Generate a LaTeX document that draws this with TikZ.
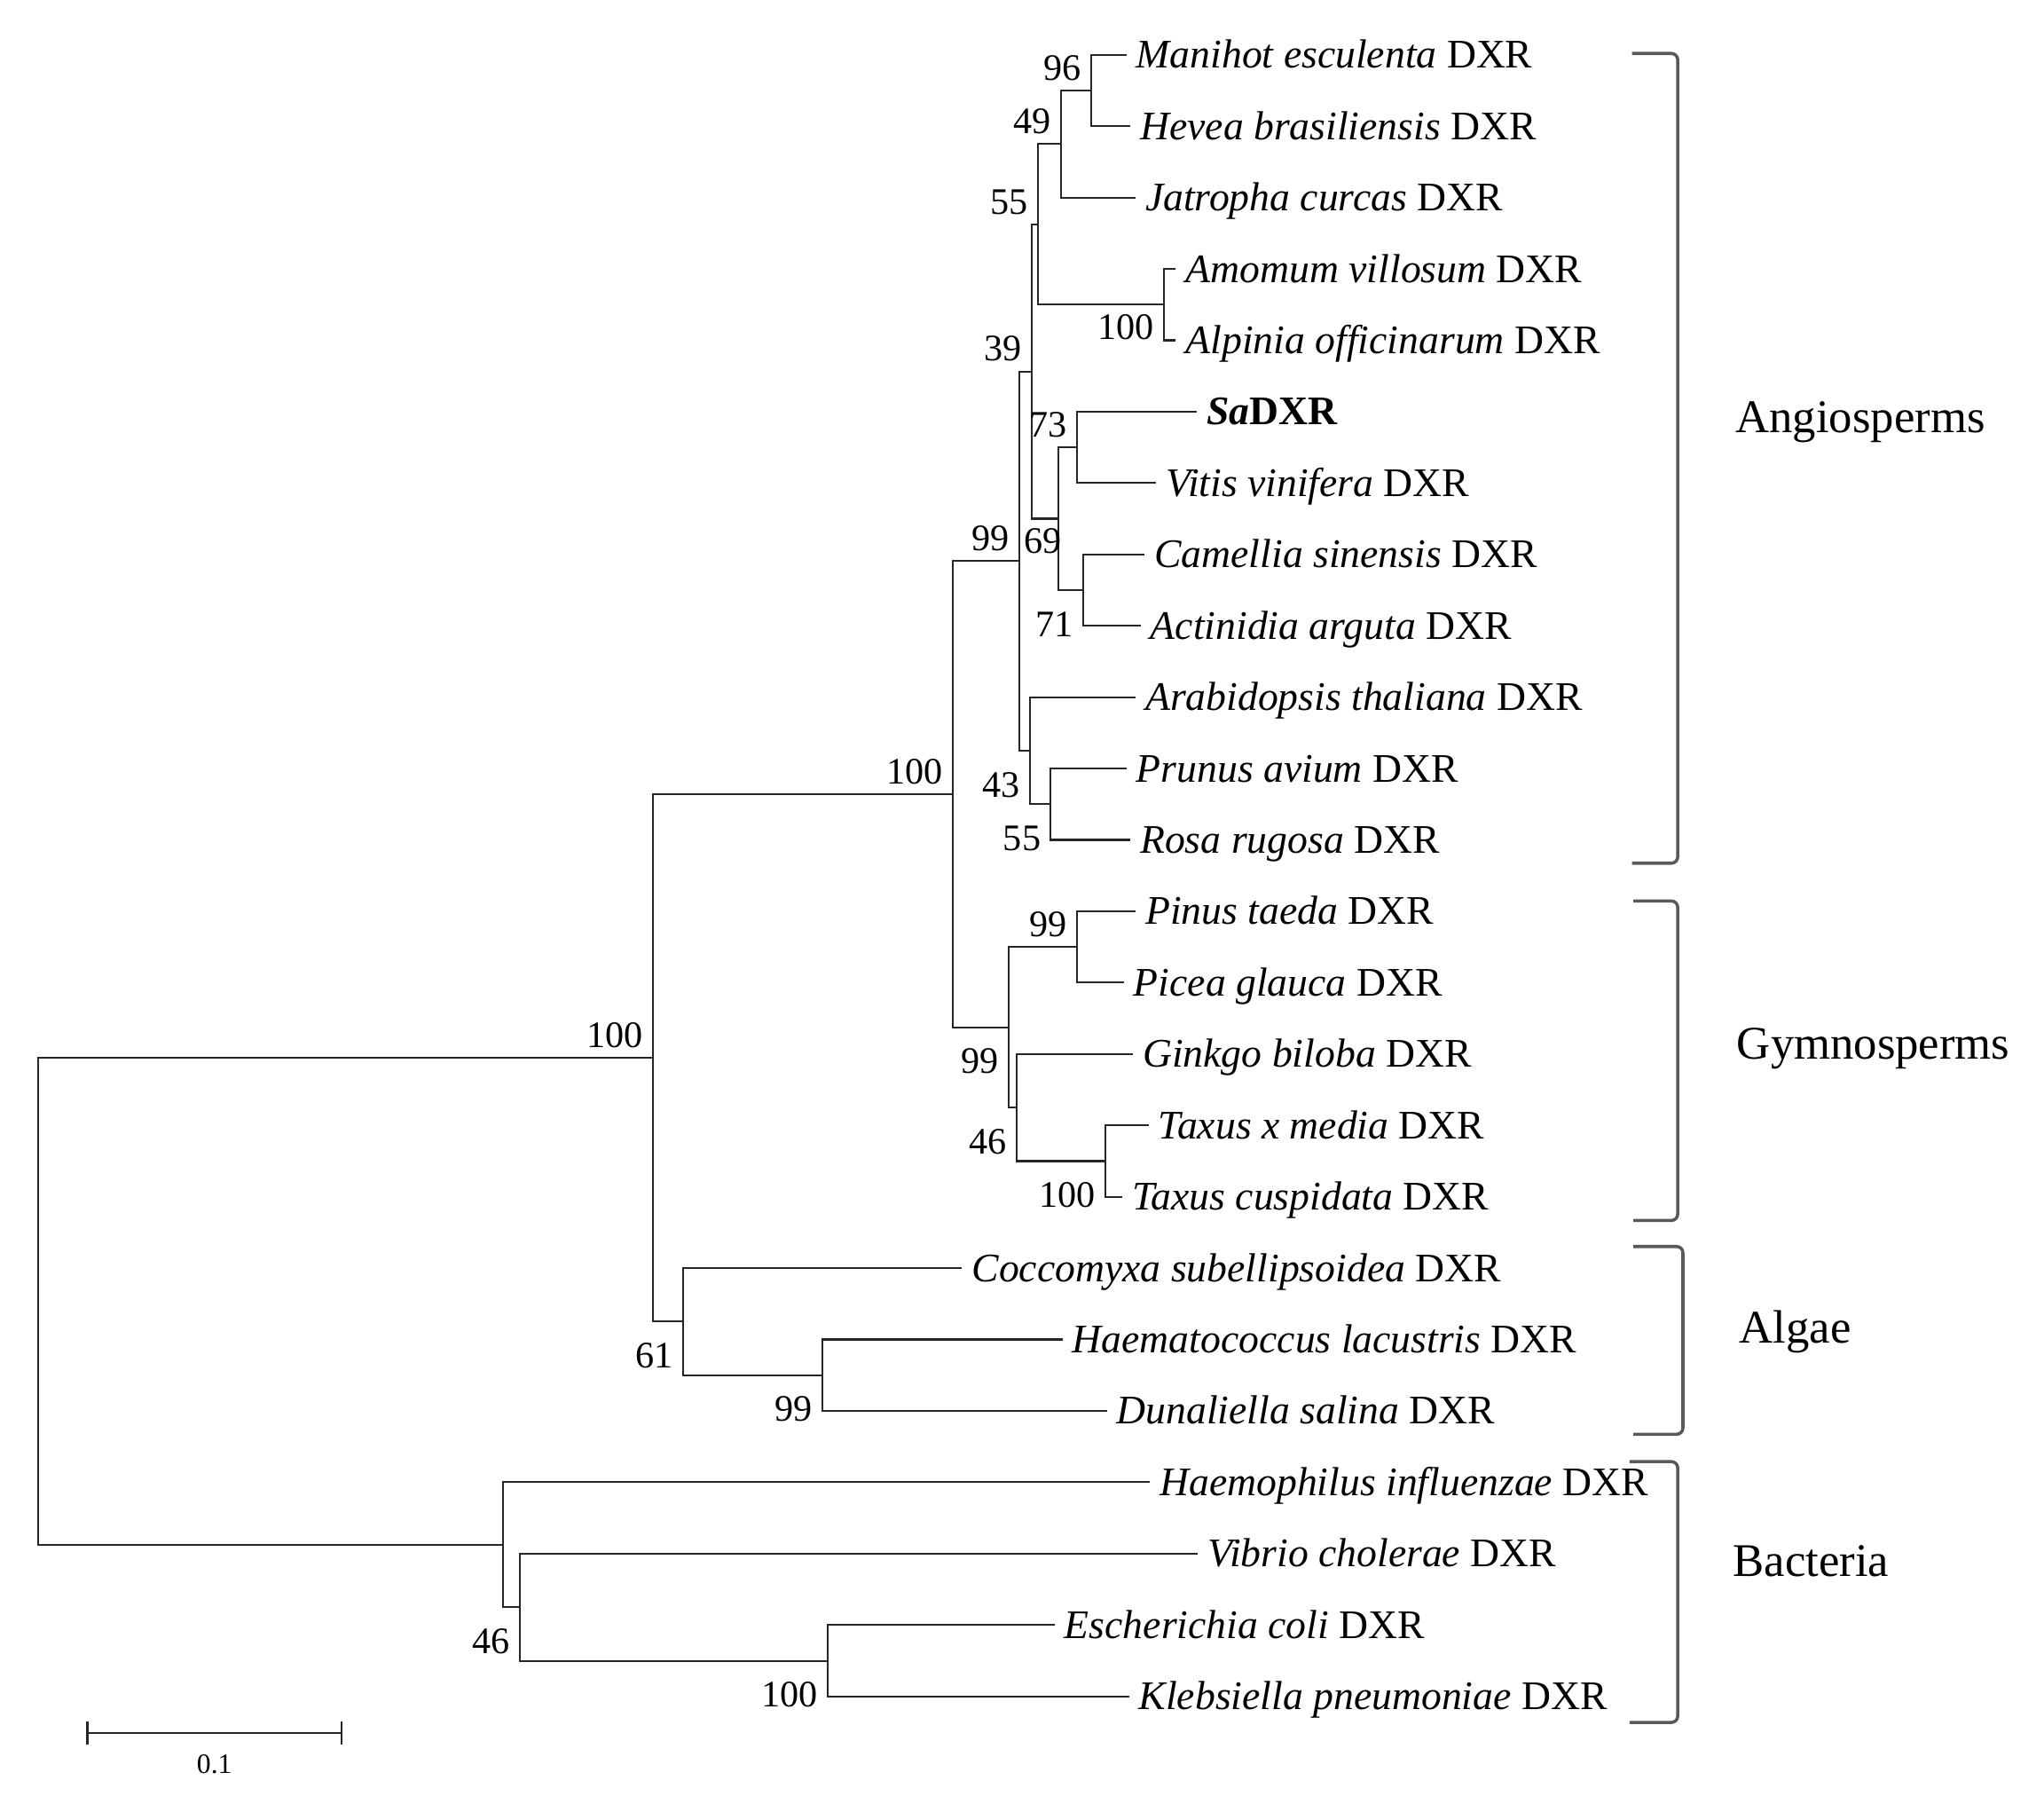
\documentclass[tikz,border=0pt]{standalone}
\usepackage{fontspec}
\setmainfont{Liberation Serif}
\usepackage{tikz}
\usetikzlibrary{calc}

\begin{document}
\begin{tikzpicture}[x=0.014694cm, y=-0.014694cm]
        % ================= 样式定义 =================
        \tikzset{
            branch/.style={line width=0.6pt, black!85},
            leaf/.style={anchor=west, inner xsep=3pt, inner ysep=0pt, text height=0.30cm, text depth=0pt, font=\fontsize{13}{15}\selectfont},
            bootup/.style={anchor=south east, inner sep=3pt, font=\fontsize{12}{14}\selectfont},
            bootdn/.style={anchor=north east, inner sep=3pt, yshift=-0.13cm, font=\fontsize{12}{14}\selectfont},
            bootnear/.style={anchor=north east, inner sep=3pt, font=\fontsize{12}{14}\selectfont},
            bracket/.style={line width=1pt, black!65, rounded corners=2pt},
            group/.style={anchor=base west, inner sep=0pt, font=\fontsize{15}{18}\selectfont}
        }
        \useasboundingbox (0,0) rectangle (1568,1383);

        % ================= 叶子 (24 条序列) =================
        \foreach \i/\x/\sp in {1/864/Manihot esculenta, 2/867/Hevea brasiliensis, 3/871/Jatropha curcas,
                4/902/Amomum villosum, 5/902/Alpinia officinarum, 7/887/Vitis vinifera,
                8/878/Camellia sinensis, 9/875/Actinidia arguta, 10/871/Arabidopsis thaliana,
                11/864/Prunus avium, 12/867/Rosa rugosa, 13/871/Pinus taeda, 14/862/Picea glauca,
                15/869/Ginkgo biloba, 16/881/Taxus x media, 17/861/Taxus cuspidata,
                18/738/Coccomyxa subellipsoidea, 19/815/Haematococcus lacustris, 20/849/Dunaliella salina,
                21/882/Haemophilus influenzae, 22/919/Vibrio cholerae, 23/809/Escherichia coli,
                24/866/Klebsiella pneumoniae} {
            \coordinate (l\i) at (\x, {42+54.74*(\i-1)});
            \node[leaf] (t\i) at (l\i) {\textit{\sp} DXR};
        }
        % 本文序列, 加粗
        \coordinate (l6) at (918, 315.7);
        \node[leaf] (t6) at (l6) {\textbf{\textit{Sa}DXR}};

        % ================= 内部节点 =================
        \coordinate (n96)   at (837, 69.4);
        \coordinate (n49)   at (814, 110.4);
        \coordinate (nAA)   at (893, 233.6);
        \coordinate (n55a)  at (796, 172);
        \coordinate (n73)   at (826, 343);
        \coordinate (n71)   at (831, 452.6);
        \coordinate (n69)   at (812, 397.8);
        \coordinate (n39)   at (791.5, 284.9);
        \coordinate (n55b)  at (806, 616.8);
        \coordinate (n43)   at (790, 575.7);
        \coordinate (n99a)  at (782, 430.3);
        \coordinate (nPP)   at (826, 726.2);
        \coordinate (nTx)   at (848, 890.5);
        \coordinate (n46g)  at (780, 849.4);
        \coordinate (n99g)  at (774, 787.8);
        \coordinate (nLand) at (731, 609);
        \coordinate (n99al) at (631, 1054.7);
        \coordinate (n61)   at (524, 1013.6);
        \coordinate (nA)    at (501, 811.3);
        \coordinate (nEK)   at (635, 1273.7);
        \coordinate (n46b)  at (399, 1232.6);
        \coordinate (nBac)  at (386, 1184.7);
        \coordinate (root)  at (29, 998);

        % 分支 (父节点 |- 子节点)
        \draw[branch] (n96) |- (l1) (n96) |- (l2);
        \draw[branch] (n49) |- (n96) (n49) |- (l3);
        \draw[branch] (nAA) |- (l4) (nAA) |- (l5);
        \draw[branch] (n55a) |- (n49) (n55a) |- (nAA);
        \draw[branch] (n73) |- (l6) (n73) |- (l7);
        \draw[branch] (n71) |- (l8) (n71) |- (l9);
        \draw[branch] (n69) |- (n73) (n69) |- (n71);
        \draw[branch] (n39) |- (n55a) (n39) |- (n69);
        \draw[branch] (n55b) |- (l11) (n55b) |- (l12);
        \draw[branch] (n43) |- (l10) (n43) |- (n55b);
        \draw[branch] (n99a) |- (n39) (n99a) |- (n43);
        \draw[branch] (nPP) |- (l13) (nPP) |- (l14);
        \draw[branch] (nTx) |- (l16) (nTx) |- (l17);
        \draw[branch] (n46g) |- (l15) (n46g) |- (nTx);
        \draw[branch] (n99g) |- (nPP) (n99g) |- (n46g);
        \draw[branch] (nLand) |- (n99a) (nLand) |- (n99g);
        \draw[branch] (n99al) |- (l19) (n99al) |- (l20);
        \draw[branch] (n61) |- (l18) (n61) |- (n99al);
        \draw[branch] (nA) |- (nLand) (nA) |- (n61);
        \draw[branch] (nEK) |- (l23) (nEK) |- (l24);
        \draw[branch] (n46b) |- (l22) (n46b) |- (nEK);
        \draw[branch] (nBac) |- (l21) (nBac) |- (n46b);
        \draw[branch] (root) |- (nA) (root) |- (nBac);

        % ================= 自展值 =================
        \node[bootup] (b96) at (n96) {96};
        \node[bootup] (b49) at (n49) {49};
        \node[bootup] (b55a) at (n55a) {55};
        \node[bootnear] (bAA) at (nAA) {100};
        \node[bootup] (b39) at (n39) {39};
        \node[bootup] (b73) at (n73) {73};
        \node[bootnear, xshift=0.15cm] (b69) at (n69) {69};
        \node[bootup] (b99a) at (n99a) {99};
        \node[bootdn] (b71) at (n71) {71};
        \node[bootdn] (b43) at (n43) {43};
        \node[bootdn] (b55b) at (n55b) {55};
        \node[bootup] (bLand) at (nLand) {100};
        \node[bootup] (bPP) at (nPP) {99};
        \node[bootdn] (b99g) at (n99g) {99};
        \node[bootdn] (b46g) at (n46g) {46};
        \node[bootdn] (bTx) at (nTx) {100};
        \node[bootup] (bA) at (nA) {100};
        \node[bootdn] (b61) at (n61) {61};
        \node[bootdn] (b99al) at (n99al) {99};
        \node[bootdn] (b46b) at (n46b) {46};
        \node[bootdn] (bEK) at (nEK) {100};

        % ================= 分类括号 =================
        \draw[bracket] (1252,41) -| (1287,662) -- (1252,662);
        \draw[bracket] (1253,691) -| (1287,936) -- (1253,936);
        \draw[bracket] (1253,956) -| (1291,1100) -- (1253,1100);
        \draw[bracket] (1250,1121) -| (1287,1321) -- (1250,1321);
        \node[group] (gAng) at (1331,332) {Angiosperms};
        \node[group] (gGym) at (1332,812) {Gymnosperms};
        \node[group] (gAlg) at (1334,1030) {Algae};
        \node[group] (gBac) at (1329,1209) {Bacteria};

        % ================= 标尺 =================
        \coordinate (sbL) at (67,1329);
        \coordinate (sbR) at (262,1329);
        \draw[branch] (sbL) -- (sbR);
        \draw[branch] ($(sbL)+(0,-9)$) -- ($(sbL)+(0,9)$);
        \draw[branch] ($(sbR)+(0,-9)$) -- ($(sbR)+(0,9)$);
        \node[font=\fontsize{9}{11}\selectfont] (sbT) at ($(sbL)!0.5!(sbR)+(0,24)$) {0.1};
\end{tikzpicture}
\end{document}
